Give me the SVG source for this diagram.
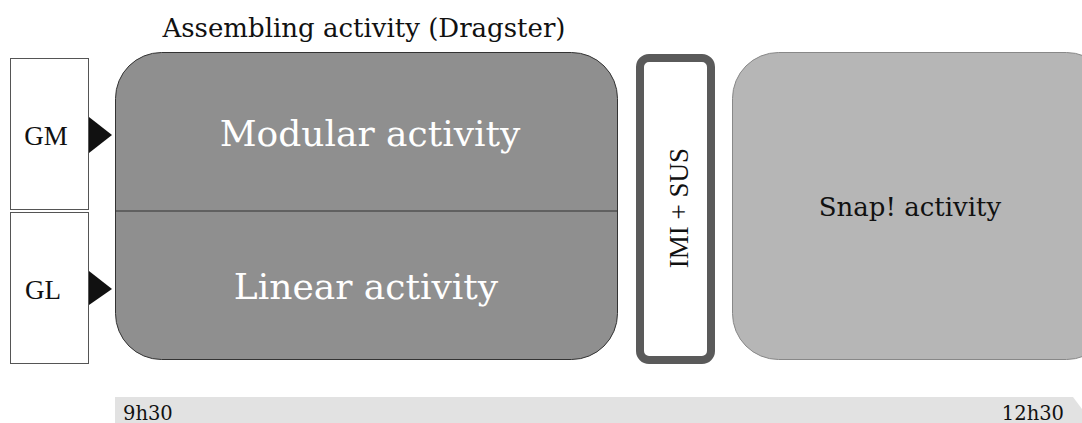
<svg xmlns="http://www.w3.org/2000/svg" width="1082" height="423" viewBox="0 0 1082 423">
<style>
.serif{font-family:"DejaVu Serif","Liberation Serif",serif;}
.times{font-family:"Liberation Serif",serif;}
.grp{fill:#fff;stroke:#555;stroke-width:1;}
.tri{fill:#111;}
</style>
<rect width="1082" height="423" fill="#fff"/>
<text class="serif" x="364" y="37" font-size="26" text-anchor="middle" fill="#111">Assembling activity (Dragster)</text>
<g id="timeline">
<path d="M115 397 H1073 L1082 409 V423 H115 Z" fill="#e2e2e2"/>
<text class="serif" x="123" y="420" font-size="19.5" fill="#111">9h30</text>
<text class="serif" x="1064" y="420" font-size="19.5" text-anchor="end" fill="#111">12h30</text>
</g>
<g id="dragster">
<rect x="115.5" y="52.5" width="502" height="307" rx="46" fill="#8f8f8f" stroke="#333" stroke-width="1"/>
<line x1="115.5" y1="211" x2="617.5" y2="211" stroke="#333" stroke-width="1.2"/>
<text class="serif" x="370" y="146" font-size="36" text-anchor="middle" fill="#fff">Modular activity</text>
<text class="serif" x="366" y="299" font-size="36" text-anchor="middle" fill="#fff">Linear activity</text>
</g>
<g id="gm">
<rect class="grp" x="10.5" y="58.5" width="78" height="151"/>
<text class="times" x="46" y="145" font-size="27" text-anchor="middle" fill="#111">GM</text>
</g>
<g id="gl">
<rect class="grp" x="10.5" y="212.5" width="78" height="151"/>
<text class="times" x="43" y="299" font-size="27" text-anchor="middle" fill="#111">GL</text>
</g>
<g id="connectors">
<polygon class="tri" points="89,117 112,135 89,153"/>
<polygon class="tri" points="89,271 112,289 89,305"/>
</g>
<g id="imi">
<rect x="640" y="58" width="71" height="302" rx="9" fill="#fff" stroke="#5a5a5a" stroke-width="8"/>
<text class="times" transform="translate(688 208) rotate(-90)" font-size="27" text-anchor="middle" fill="#111">IMI + SUS</text>
</g>
<g id="snap">
<rect x="732.5" y="52.5" width="380" height="307" rx="46" fill="#b6b6b6" stroke="#888" stroke-width="1"/>
<text class="serif" x="910" y="216" font-size="26" text-anchor="middle" fill="#111">Snap! activity</text>
</g>
</svg>
